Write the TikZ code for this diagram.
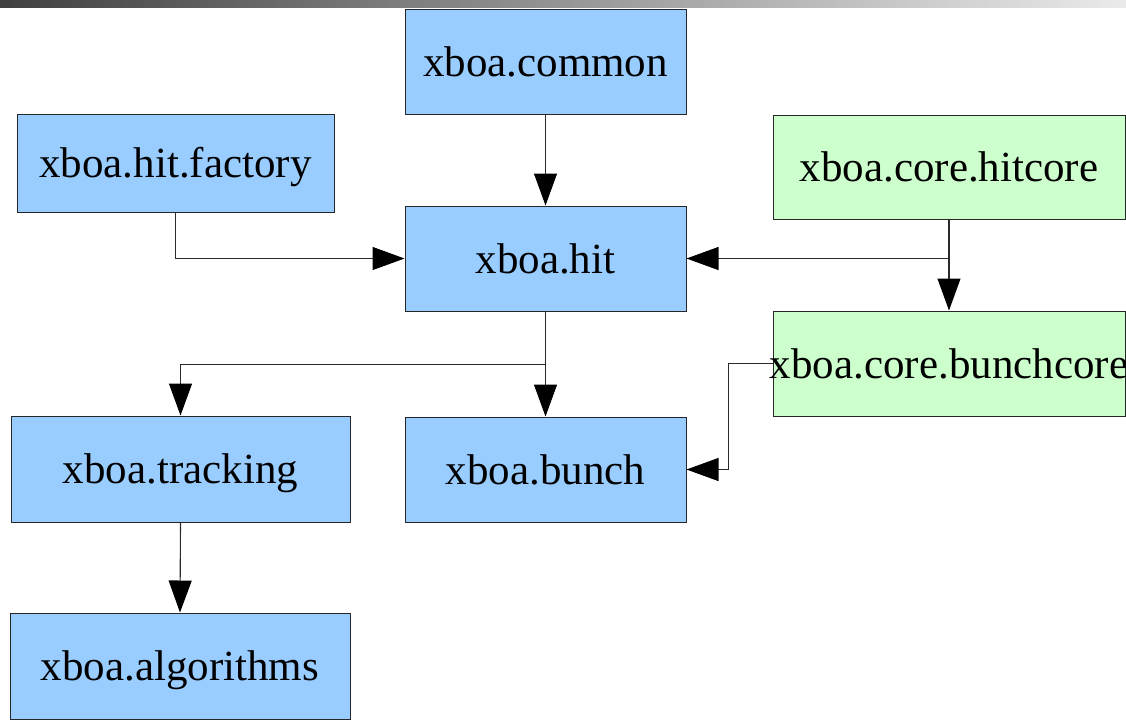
\documentclass[tikz,border=0pt]{standalone}
\usepackage{fontspec}
\setmainfont{Liberation Serif}
\usetikzlibrary{arrows.meta,calc}
\definecolor{boxblue}{HTML}{99CCFF}
\definecolor{boxgreen}{HTML}{CCFFCC}
\definecolor{linegray}{HTML}{2A2A2A}
\tikzset{
  modbox/.style={draw=black!85, line width=1pt, fill=boxblue, inner sep=0pt,
    text height=29pt, text depth=0pt, font=\fontsize{43}{50}\selectfont},
  corebox/.style={modbox, fill=boxgreen},
  dep/.style={draw=linegray, line width=1.1pt, -{Triangle[length=32pt,width=23pt,color=black]}}
}
\begin{document}
\begin{tikzpicture}[x=1pt,y=-1pt]
\useasboundingbox (0,0) rectangle (1126,720);
\fill[white] (0,0) rectangle (1126,720);
\shade[left color=black!75, right color=black!8] (0,0) rectangle (1126,7);

\node[modbox, minimum width=281pt, minimum height=105pt] (common) at (545.5,61.5) {xboa.common};
\node[modbox, minimum width=317pt, minimum height=98pt] (factory) at (175.5,163) {xboa.hit.factory};
\node[corebox, minimum width=352pt, minimum height=104pt] (hitcore) at (949,167) {xboa.core.hitcore};
\node[modbox, minimum width=281pt, minimum height=105pt] (hit) at (545.5,258.5) {xboa.hit};
\node[corebox, minimum width=352pt, minimum height=105pt] (bunchcore) at (949,363.5) {\makebox[0pt]{xboa.core.bunchcore}};
\node[modbox, minimum width=339pt, minimum height=106pt] (tracking) at (180.5,469) {xboa.tracking};
\node[modbox, minimum width=281pt, minimum height=105pt] (bunch) at (545.5,469.5) {xboa.bunch};
\node[modbox, minimum width=340pt, minimum height=106pt] (algorithms) at (180,666) {xboa.algorithms};

\coordinate (hcjoin) at (hitcore.south |- hit.east);
\coordinate (hitjoin) at ($(hit.south)+(0,53)$);

\draw[dep] (common.south) -- (hit.north);
\draw[dep] (factory.south) |- (hit.west);
\draw[dep] (hitcore.south) -- (bunchcore.north);
\draw[dep] (hcjoin) -- (hit.east);
\draw[dep] (bunchcore.west) -- ++(-44,0) |- (bunch.east);
\draw[dep] (hit.south) -- (bunch.north);
\draw[dep] (hitjoin) -| (tracking.north);
\draw[dep] (tracking.south) -- (algorithms.north);
\end{tikzpicture}
\end{document}
